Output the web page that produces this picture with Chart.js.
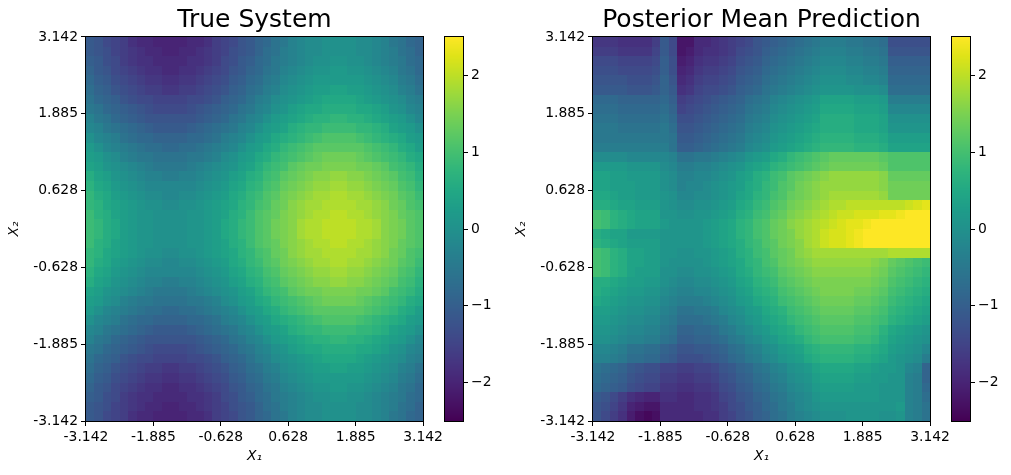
<!DOCTYPE html>
<html>
<head>
<meta charset="utf-8">
<script src="https://cdn.jsdelivr.net/npm/chart.js@4.4.1/dist/chart.umd.min.js"></script>
<style>
  body { margin: 0; background: #fff; }
  #wrap { position: relative; width: 1011px; height: 475px; overflow: hidden; background: #fff; }
  canvas { position: absolute; top: 0; }
</style>
</head>
<body>
<div id="wrap">
  <canvas id="heat1" width="460" height="475" style="left:0px"></canvas>
  <canvas id="bar1" width="80" height="475" style="left:425px"></canvas>
  <canvas id="heat2" width="460" height="475" style="left:507px"></canvas>
  <canvas id="bar2" width="80" height="475" style="left:932px"></canvas>
</div>
<script>
"use strict";

// axis ticks (same on both panels)
const tickVals = [-3.142, -1.885, -0.628, 0.628, 1.885, 3.142];
const tickLabels = ['-3.142', '-1.885', '-0.628', '0.628', '1.885', '3.142'];

// colorbar
const vmin = -2.5;
const vmax = 2.5;
const cbTickVals = [-2, -1, 0, 1, 2];
const cbTickLabels = ['\u22122', '\u22121', '0', '1', '2'];

const titles = ['True System', 'Posterior Mean Prediction'];

// grid values, row 0 = top (X2 = 3.142), column 0 = left (X1 = -3.142)
const trueZ = [
  [-1.1,-1.2,-1.4,-1.5,-1.6,-1.8,-1.9,-1.9,-2.0,-2.0,-2.0,-2.0,-1.9,-1.9,-1.8,-1.6,-1.5,-1.4,-1.2,-1.1,-0.9,-0.8,-0.6,-0.5,-0.3,-0.2,-0.1,-0.1,0.0,0.0,0.0,0.0,-0.1,-0.1,-0.2,-0.3,-0.5,-0.6,-0.8,-0.9],
  [-1.1,-1.2,-1.3,-1.5,-1.6,-1.7,-1.8,-1.9,-1.9,-2.0,-2.0,-1.9,-1.9,-1.8,-1.7,-1.6,-1.5,-1.3,-1.2,-1.1,-0.9,-0.7,-0.6,-0.4,-0.3,-0.2,-0.1,-0.1,0.0,0.0,0.0,0.0,-0.1,-0.1,-0.2,-0.3,-0.4,-0.6,-0.7,-0.9],
  [-1.0,-1.1,-1.3,-1.4,-1.6,-1.7,-1.8,-1.8,-1.9,-1.9,-1.9,-1.9,-1.8,-1.8,-1.7,-1.6,-1.4,-1.3,-1.1,-1.0,-0.8,-0.7,-0.5,-0.4,-0.3,-0.2,-0.1,0.0,0.0,0.1,0.1,0.0,0.0,-0.1,-0.2,-0.3,-0.4,-0.5,-0.7,-0.8],
  [-0.9,-1.1,-1.2,-1.4,-1.5,-1.6,-1.7,-1.8,-1.8,-1.9,-1.9,-1.8,-1.8,-1.7,-1.6,-1.5,-1.4,-1.2,-1.1,-0.9,-0.8,-0.6,-0.5,-0.3,-0.2,-0.1,0.0,0.1,0.1,0.2,0.2,0.1,0.1,0.0,-0.1,-0.2,-0.3,-0.5,-0.6,-0.8],
  [-0.8,-1.0,-1.1,-1.3,-1.4,-1.5,-1.6,-1.7,-1.7,-1.8,-1.8,-1.7,-1.7,-1.6,-1.5,-1.4,-1.3,-1.1,-1.0,-0.8,-0.7,-0.5,-0.4,-0.2,-0.1,0.0,0.1,0.2,0.2,0.2,0.2,0.2,0.2,0.1,0.0,-0.1,-0.2,-0.4,-0.5,-0.7],
  [-0.7,-0.9,-1.0,-1.2,-1.3,-1.4,-1.5,-1.6,-1.6,-1.7,-1.7,-1.6,-1.6,-1.5,-1.4,-1.3,-1.2,-1.0,-0.9,-0.7,-0.6,-0.4,-0.3,-0.1,0.0,0.1,0.2,0.3,0.3,0.4,0.4,0.3,0.3,0.2,0.1,0.0,-0.1,-0.3,-0.4,-0.6],
  [-0.6,-0.8,-0.9,-1.0,-1.2,-1.3,-1.4,-1.4,-1.5,-1.5,-1.5,-1.5,-1.4,-1.4,-1.3,-1.2,-1.0,-0.9,-0.8,-0.6,-0.4,-0.3,-0.1,0.0,0.1,0.2,0.3,0.4,0.5,0.5,0.5,0.5,0.4,0.3,0.2,0.1,0.0,-0.1,-0.3,-0.4],
  [-0.5,-0.6,-0.8,-0.9,-1.0,-1.1,-1.2,-1.3,-1.4,-1.4,-1.4,-1.4,-1.3,-1.2,-1.1,-1.0,-0.9,-0.8,-0.6,-0.5,-0.3,-0.2,0.0,0.1,0.3,0.4,0.5,0.5,0.6,0.6,0.6,0.6,0.5,0.5,0.4,0.3,0.1,0.0,-0.2,-0.3],
  [-0.3,-0.5,-0.6,-0.8,-0.9,-1.0,-1.1,-1.2,-1.2,-1.2,-1.2,-1.2,-1.2,-1.1,-1.0,-0.9,-0.8,-0.6,-0.5,-0.3,-0.2,0.0,0.2,0.3,0.4,0.5,0.6,0.7,0.7,0.8,0.8,0.7,0.7,0.6,0.5,0.4,0.3,0.2,0.0,-0.2],
  [-0.2,-0.3,-0.5,-0.6,-0.7,-0.8,-0.9,-1.0,-1.1,-1.1,-1.1,-1.1,-1.0,-0.9,-0.8,-0.7,-0.6,-0.5,-0.3,-0.2,0.0,0.2,0.3,0.4,0.6,0.7,0.8,0.8,0.9,0.9,0.9,0.9,0.8,0.8,0.7,0.6,0.4,0.3,0.2,0.0],
  [0.0,-0.2,-0.3,-0.4,-0.6,-0.7,-0.8,-0.8,-0.9,-0.9,-0.9,-0.9,-0.8,-0.8,-0.7,-0.6,-0.4,-0.3,-0.2,0.0,0.2,0.3,0.5,0.6,0.7,0.8,0.9,1.0,1.1,1.1,1.1,1.1,1.0,0.9,0.8,0.7,0.6,0.5,0.3,0.2],
  [0.2,0.0,-0.2,-0.3,-0.4,-0.5,-0.6,-0.7,-0.7,-0.8,-0.8,-0.7,-0.7,-0.6,-0.5,-0.4,-0.3,-0.2,0.0,0.2,0.3,0.5,0.6,0.8,0.9,1.0,1.1,1.2,1.2,1.2,1.2,1.2,1.2,1.1,1.0,0.9,0.8,0.6,0.5,0.3],
  [0.3,0.2,0.0,-0.1,-0.3,-0.4,-0.5,-0.5,-0.6,-0.6,-0.6,-0.6,-0.5,-0.5,-0.4,-0.3,-0.1,0.0,0.2,0.3,0.5,0.6,0.8,0.9,1.0,1.1,1.2,1.3,1.4,1.4,1.4,1.4,1.3,1.2,1.1,1.0,0.9,0.8,0.6,0.5],
  [0.4,0.3,0.1,0.0,-0.1,-0.2,-0.3,-0.4,-0.5,-0.5,-0.5,-0.5,-0.4,-0.3,-0.2,-0.1,0.0,0.1,0.3,0.4,0.6,0.8,0.9,1.0,1.2,1.3,1.4,1.4,1.5,1.5,1.5,1.5,1.4,1.4,1.3,1.2,1.0,0.9,0.8,0.6],
  [0.6,0.4,0.3,0.1,0.0,-0.1,-0.2,-0.3,-0.3,-0.4,-0.4,-0.3,-0.3,-0.2,-0.1,0.0,0.1,0.3,0.4,0.6,0.7,0.9,1.0,1.2,1.3,1.4,1.5,1.6,1.6,1.7,1.7,1.6,1.6,1.5,1.4,1.3,1.2,1.0,0.9,0.7],
  [0.7,0.5,0.4,0.2,0.1,0.0,-0.1,-0.2,-0.2,-0.2,-0.2,-0.2,-0.2,-0.1,0.0,0.1,0.2,0.4,0.5,0.7,0.8,1.0,1.1,1.3,1.4,1.5,1.6,1.7,1.7,1.8,1.8,1.7,1.7,1.6,1.5,1.4,1.3,1.1,1.0,0.8],
  [0.8,0.6,0.5,0.3,0.2,0.1,0.0,-0.1,-0.1,-0.2,-0.2,-0.1,-0.1,0.0,0.1,0.2,0.3,0.5,0.6,0.8,0.9,1.1,1.2,1.4,1.5,1.6,1.7,1.8,1.8,1.9,1.9,1.8,1.8,1.7,1.6,1.5,1.4,1.2,1.1,0.9],
  [0.8,0.7,0.5,0.4,0.3,0.2,0.1,0.0,0.0,-0.1,-0.1,0.0,0.0,0.1,0.2,0.3,0.4,0.5,0.7,0.8,1.0,1.1,1.3,1.4,1.6,1.7,1.8,1.8,1.9,1.9,1.9,1.9,1.8,1.8,1.7,1.6,1.4,1.3,1.1,1.0],
  [0.9,0.7,0.6,0.4,0.3,0.2,0.1,0.1,0.0,0.0,0.0,0.0,0.1,0.1,0.2,0.3,0.4,0.6,0.7,0.9,1.1,1.2,1.3,1.5,1.6,1.7,1.8,1.9,1.9,2.0,2.0,1.9,1.9,1.8,1.7,1.6,1.5,1.3,1.2,1.1],
  [0.9,0.8,0.6,0.5,0.3,0.2,0.1,0.1,0.0,0.0,0.0,0.0,0.1,0.1,0.2,0.3,0.5,0.6,0.8,0.9,1.1,1.2,1.4,1.5,1.6,1.8,1.9,1.9,2.0,2.0,2.0,2.0,1.9,1.9,1.8,1.6,1.5,1.4,1.2,1.1],
  [0.9,0.8,0.6,0.5,0.3,0.2,0.1,0.1,0.0,0.0,0.0,0.0,0.1,0.1,0.2,0.3,0.5,0.6,0.8,0.9,1.1,1.2,1.4,1.5,1.6,1.8,1.9,1.9,2.0,2.0,2.0,2.0,1.9,1.9,1.8,1.6,1.5,1.4,1.2,1.1],
  [0.9,0.7,0.6,0.4,0.3,0.2,0.1,0.1,0.0,0.0,0.0,0.0,0.1,0.1,0.2,0.3,0.4,0.6,0.7,0.9,1.1,1.2,1.3,1.5,1.6,1.7,1.8,1.9,1.9,2.0,2.0,1.9,1.9,1.8,1.7,1.6,1.5,1.3,1.2,1.1],
  [0.8,0.7,0.5,0.4,0.3,0.2,0.1,0.0,0.0,-0.1,-0.1,0.0,0.0,0.1,0.2,0.3,0.4,0.5,0.7,0.8,1.0,1.1,1.3,1.4,1.6,1.7,1.8,1.8,1.9,1.9,1.9,1.9,1.8,1.8,1.7,1.6,1.4,1.3,1.1,1.0],
  [0.8,0.6,0.5,0.3,0.2,0.1,0.0,-0.1,-0.1,-0.2,-0.2,-0.1,-0.1,0.0,0.1,0.2,0.3,0.5,0.6,0.8,0.9,1.1,1.2,1.4,1.5,1.6,1.7,1.8,1.8,1.9,1.9,1.8,1.8,1.7,1.6,1.5,1.4,1.2,1.1,0.9],
  [0.7,0.5,0.4,0.2,0.1,0.0,-0.1,-0.2,-0.2,-0.2,-0.2,-0.2,-0.2,-0.1,0.0,0.1,0.2,0.4,0.5,0.7,0.8,1.0,1.1,1.3,1.4,1.5,1.6,1.7,1.7,1.8,1.8,1.7,1.7,1.6,1.5,1.4,1.3,1.1,1.0,0.8],
  [0.6,0.4,0.3,0.1,0.0,-0.1,-0.2,-0.3,-0.3,-0.4,-0.4,-0.3,-0.3,-0.2,-0.1,0.0,0.1,0.3,0.4,0.6,0.7,0.9,1.0,1.2,1.3,1.4,1.5,1.6,1.6,1.7,1.7,1.6,1.6,1.5,1.4,1.3,1.2,1.0,0.9,0.7],
  [0.4,0.3,0.1,0.0,-0.1,-0.2,-0.3,-0.4,-0.5,-0.5,-0.5,-0.5,-0.4,-0.3,-0.2,-0.1,0.0,0.1,0.3,0.4,0.6,0.8,0.9,1.0,1.2,1.3,1.4,1.4,1.5,1.5,1.5,1.5,1.4,1.4,1.3,1.2,1.0,0.9,0.8,0.6],
  [0.3,0.2,0.0,-0.1,-0.3,-0.4,-0.5,-0.5,-0.6,-0.6,-0.6,-0.6,-0.5,-0.5,-0.4,-0.3,-0.1,0.0,0.2,0.3,0.5,0.6,0.8,0.9,1.0,1.1,1.2,1.3,1.4,1.4,1.4,1.4,1.3,1.2,1.1,1.0,0.9,0.8,0.6,0.5],
  [0.2,0.0,-0.2,-0.3,-0.4,-0.5,-0.6,-0.7,-0.7,-0.8,-0.8,-0.7,-0.7,-0.6,-0.5,-0.4,-0.3,-0.2,0.0,0.2,0.3,0.5,0.6,0.8,0.9,1.0,1.1,1.2,1.2,1.2,1.2,1.2,1.2,1.1,1.0,0.9,0.8,0.6,0.5,0.3],
  [0.0,-0.2,-0.3,-0.4,-0.6,-0.7,-0.8,-0.8,-0.9,-0.9,-0.9,-0.9,-0.8,-0.8,-0.7,-0.6,-0.4,-0.3,-0.2,0.0,0.2,0.3,0.5,0.6,0.7,0.8,0.9,1.0,1.1,1.1,1.1,1.1,1.0,0.9,0.8,0.7,0.6,0.5,0.3,0.2],
  [-0.2,-0.3,-0.5,-0.6,-0.7,-0.8,-0.9,-1.0,-1.1,-1.1,-1.1,-1.1,-1.0,-0.9,-0.8,-0.7,-0.6,-0.5,-0.3,-0.2,0.0,0.2,0.3,0.4,0.6,0.7,0.8,0.8,0.9,0.9,0.9,0.9,0.8,0.8,0.7,0.6,0.4,0.3,0.2,0.0],
  [-0.3,-0.5,-0.6,-0.8,-0.9,-1.0,-1.1,-1.2,-1.2,-1.2,-1.2,-1.2,-1.2,-1.1,-1.0,-0.9,-0.8,-0.6,-0.5,-0.3,-0.2,0.0,0.2,0.3,0.4,0.5,0.6,0.7,0.7,0.8,0.8,0.7,0.7,0.6,0.5,0.4,0.3,0.2,0.0,-0.2],
  [-0.5,-0.6,-0.8,-0.9,-1.0,-1.1,-1.2,-1.3,-1.4,-1.4,-1.4,-1.4,-1.3,-1.2,-1.1,-1.0,-0.9,-0.8,-0.6,-0.5,-0.3,-0.2,0.0,0.1,0.3,0.4,0.5,0.5,0.6,0.6,0.6,0.6,0.5,0.5,0.4,0.3,0.1,0.0,-0.2,-0.3],
  [-0.6,-0.8,-0.9,-1.0,-1.2,-1.3,-1.4,-1.4,-1.5,-1.5,-1.5,-1.5,-1.4,-1.4,-1.3,-1.2,-1.0,-0.9,-0.8,-0.6,-0.4,-0.3,-0.1,0.0,0.1,0.2,0.3,0.4,0.5,0.5,0.5,0.5,0.4,0.3,0.2,0.1,0.0,-0.1,-0.3,-0.4],
  [-0.7,-0.9,-1.0,-1.2,-1.3,-1.4,-1.5,-1.6,-1.6,-1.7,-1.7,-1.6,-1.6,-1.5,-1.4,-1.3,-1.2,-1.0,-0.9,-0.7,-0.6,-0.4,-0.3,-0.1,0.0,0.1,0.2,0.3,0.3,0.4,0.4,0.3,0.3,0.2,0.1,0.0,-0.1,-0.3,-0.4,-0.6],
  [-0.8,-1.0,-1.1,-1.3,-1.4,-1.5,-1.6,-1.7,-1.7,-1.8,-1.8,-1.7,-1.7,-1.6,-1.5,-1.4,-1.3,-1.1,-1.0,-0.8,-0.7,-0.5,-0.4,-0.2,-0.1,0.0,0.1,0.2,0.2,0.2,0.2,0.2,0.2,0.1,0.0,-0.1,-0.2,-0.4,-0.5,-0.7],
  [-0.9,-1.1,-1.2,-1.4,-1.5,-1.6,-1.7,-1.8,-1.8,-1.9,-1.9,-1.8,-1.8,-1.7,-1.6,-1.5,-1.4,-1.2,-1.1,-0.9,-0.8,-0.6,-0.5,-0.3,-0.2,-0.1,0.0,0.1,0.1,0.2,0.2,0.1,0.1,0.0,-0.1,-0.2,-0.3,-0.5,-0.6,-0.8],
  [-1.0,-1.1,-1.3,-1.4,-1.6,-1.7,-1.8,-1.8,-1.9,-1.9,-1.9,-1.9,-1.8,-1.8,-1.7,-1.6,-1.4,-1.3,-1.1,-1.0,-0.8,-0.7,-0.5,-0.4,-0.3,-0.2,-0.1,0.0,0.0,0.1,0.1,0.0,0.0,-0.1,-0.2,-0.3,-0.4,-0.5,-0.7,-0.8],
  [-1.1,-1.2,-1.3,-1.5,-1.6,-1.7,-1.8,-1.9,-1.9,-2.0,-2.0,-1.9,-1.9,-1.8,-1.7,-1.6,-1.5,-1.3,-1.2,-1.1,-0.9,-0.7,-0.6,-0.4,-0.3,-0.2,-0.1,-0.1,0.0,0.0,0.0,0.0,-0.1,-0.1,-0.2,-0.3,-0.4,-0.6,-0.7,-0.9],
  [-1.1,-1.2,-1.4,-1.5,-1.6,-1.8,-1.9,-1.9,-2.0,-2.0,-2.0,-2.0,-1.9,-1.9,-1.8,-1.6,-1.5,-1.4,-1.2,-1.1,-0.9,-0.8,-0.6,-0.5,-0.3,-0.2,-0.1,-0.1,0.0,0.0,0.0,0.0,-0.1,-0.1,-0.2,-0.3,-0.5,-0.6,-0.8,-0.9]
];

const postZ = [
  [-1.7,-1.7,-1.7,-1.8,-1.8,-1.8,-1.8,-1.6,-1.1,-1.4,-2.2,-2.2,-1.9,-1.9,-1.8,-1.7,-1.6,-1.5,-1.4,-1.2,-1.1,-1.0,-0.9,-0.8,-0.7,-0.6,-0.5,-0.4,-0.4,-0.4,-0.5,-0.5,-0.6,-0.6,-0.7,-1.3,-1.3,-1.3,-1.3,-1.3],
  [-1.6,-1.6,-1.6,-1.7,-1.7,-1.7,-1.7,-1.5,-1.1,-1.4,-2.2,-2.1,-1.9,-1.8,-1.8,-1.7,-1.6,-1.4,-1.3,-1.2,-1.0,-0.9,-0.8,-0.7,-0.6,-0.5,-0.4,-0.3,-0.3,-0.3,-0.4,-0.4,-0.5,-0.5,-0.6,-1.2,-1.2,-1.2,-1.2,-1.2],
  [-1.4,-1.4,-1.4,-1.5,-1.5,-1.5,-1.5,-1.4,-1.0,-1.3,-2.1,-2.0,-1.8,-1.7,-1.7,-1.6,-1.5,-1.3,-1.2,-1.1,-0.9,-0.8,-0.7,-0.6,-0.5,-0.4,-0.3,-0.2,-0.2,-0.2,-0.3,-0.3,-0.4,-0.4,-0.5,-1.0,-1.0,-1.0,-1.0,-1.0],
  [-1.3,-1.3,-1.3,-1.4,-1.4,-1.4,-1.4,-1.3,-1.0,-1.3,-2.0,-1.9,-1.7,-1.6,-1.6,-1.5,-1.4,-1.2,-1.1,-1.0,-0.8,-0.7,-0.6,-0.5,-0.4,-0.3,-0.2,-0.1,-0.1,-0.1,-0.2,-0.2,-0.3,-0.3,-0.4,-0.9,-0.9,-0.9,-0.9,-0.9],
  [-1.2,-1.2,-1.2,-1.2,-1.3,-1.3,-1.3,-1.2,-0.9,-1.2,-1.9,-1.8,-1.6,-1.5,-1.5,-1.4,-1.3,-1.1,-1.0,-0.9,-0.7,-0.6,-0.5,-0.4,-0.3,-0.2,-0.1,0.0,0.0,0.0,-0.1,-0.1,-0.2,-0.2,-0.3,-0.8,-0.8,-0.8,-0.8,-0.8],
  [-1.1,-1.1,-1.1,-1.1,-1.2,-1.2,-1.2,-1.1,-0.9,-1.1,-1.8,-1.7,-1.5,-1.4,-1.4,-1.3,-1.2,-1.0,-0.9,-0.8,-0.6,-0.5,-0.4,-0.3,-0.2,-0.1,0.0,0.1,0.1,0.1,0.1,0.0,0.0,0.0,-0.1,-0.7,-0.7,-0.7,-0.7,-0.7],
  [-0.8,-0.8,-0.8,-0.9,-0.9,-0.9,-0.9,-0.9,-0.8,-1.0,-1.6,-1.5,-1.4,-1.3,-1.2,-1.1,-1.0,-0.9,-0.7,-0.6,-0.5,-0.3,-0.2,-0.1,0.0,0.1,0.2,0.4,0.4,0.4,0.4,0.3,0.3,0.3,0.2,-0.4,-0.4,-0.4,-0.4,-0.4],
  [-0.7,-0.7,-0.7,-0.8,-0.8,-0.8,-0.8,-0.8,-0.7,-0.9,-1.5,-1.4,-1.3,-1.2,-1.1,-1.0,-0.9,-0.8,-0.6,-0.5,-0.4,-0.2,-0.1,0.0,0.1,0.2,0.3,0.5,0.5,0.5,0.5,0.4,0.4,0.4,0.3,-0.2,-0.2,-0.2,-0.2,-0.2],
  [-0.6,-0.6,-0.6,-0.7,-0.7,-0.7,-0.7,-0.7,-0.6,-0.8,-1.3,-1.3,-1.2,-1.1,-1.0,-0.9,-0.8,-0.7,-0.5,-0.4,-0.3,-0.1,0.0,0.1,0.2,0.3,0.4,0.6,0.6,0.6,0.6,0.5,0.5,0.5,0.4,0.0,0.0,0.0,0.0,0.0],
  [-0.5,-0.5,-0.5,-0.6,-0.6,-0.6,-0.6,-0.6,-0.5,-0.7,-1.2,-1.2,-1.1,-1.0,-0.9,-0.8,-0.7,-0.6,-0.4,-0.3,-0.2,0.0,0.1,0.2,0.3,0.4,0.5,0.6,0.6,0.6,0.6,0.5,0.5,0.5,0.4,0.1,0.1,0.1,0.1,0.1],
  [-0.5,-0.5,-0.5,-0.5,-0.5,-0.5,-0.5,-0.5,-0.5,-0.6,-1.1,-1.1,-1.0,-0.9,-0.8,-0.7,-0.6,-0.5,-0.3,-0.2,-0.1,0.1,0.2,0.3,0.4,0.5,0.6,0.7,0.7,0.7,0.7,0.6,0.6,0.6,0.5,0.3,0.3,0.3,0.3,0.3],
  [-0.4,-0.4,-0.4,-0.4,-0.4,-0.4,-0.4,-0.4,-0.4,-0.6,-1.0,-1.0,-0.9,-0.8,-0.7,-0.6,-0.5,-0.4,-0.2,-0.1,0.0,0.2,0.3,0.4,0.5,0.6,0.7,0.8,0.8,0.8,0.8,0.7,0.7,0.7,0.6,0.4,0.4,0.4,0.4,0.4],
  [-0.1,-0.1,-0.1,-0.1,-0.2,-0.2,-0.2,-0.2,-0.2,-0.3,-0.6,-0.6,-0.5,-0.5,-0.4,-0.3,-0.2,-0.1,0.1,0.2,0.3,0.5,0.6,0.8,0.9,1.0,1.1,1.2,1.3,1.3,1.3,1.3,1.3,1.3,1.2,1.1,1.1,1.1,1.1,1.1],
  [0.2,0.2,0.2,0.2,0.1,0.1,0.1,0.1,-0.1,-0.2,-0.4,-0.4,-0.3,-0.3,-0.2,-0.1,0.0,0.1,0.3,0.4,0.5,0.7,0.8,0.9,1.0,1.1,1.2,1.3,1.4,1.4,1.4,1.4,1.4,1.4,1.3,1.1,1.1,1.1,1.1,1.1],
  [0.4,0.4,0.3,0.3,0.2,0.2,0.2,0.2,0.0,-0.1,-0.3,-0.3,-0.2,-0.2,-0.1,0.0,0.1,0.3,0.4,0.6,0.7,0.9,1.0,1.2,1.3,1.4,1.5,1.6,1.7,1.7,1.7,1.7,1.7,1.7,1.6,1.3,1.3,1.3,1.3,1.3],
  [0.4,0.4,0.3,0.3,0.3,0.2,0.2,0.2,0.0,-0.1,-0.3,-0.2,-0.2,-0.1,0.0,0.1,0.2,0.3,0.5,0.6,0.8,0.9,1.1,1.2,1.4,1.5,1.6,1.7,1.7,1.7,1.7,1.7,1.7,1.7,1.6,1.4,1.4,1.4,1.4,1.4],
  [0.5,0.5,0.4,0.3,0.3,0.2,0.2,0.2,0.1,0.0,-0.2,-0.2,-0.1,-0.1,0.0,0.1,0.2,0.4,0.5,0.7,0.8,1.0,1.1,1.3,1.4,1.5,1.6,1.7,1.8,1.8,1.8,1.8,1.8,1.8,1.7,1.4,1.4,1.4,1.4,1.4],
  [0.6,0.6,0.5,0.4,0.4,0.3,0.3,0.3,0.1,0.0,-0.1,-0.1,0.0,0.0,0.1,0.2,0.3,0.5,0.6,0.8,0.9,1.1,1.2,1.4,1.5,1.6,1.7,1.8,1.9,1.9,2.0,2.0,2.0,2.0,2.0,2.0,2.0,2.1,2.2,2.3],
  [1.0,0.9,0.7,0.6,0.5,0.4,0.4,0.4,0.1,0.1,0.0,0.0,0.1,0.1,0.2,0.3,0.4,0.6,0.7,0.9,1.0,1.2,1.3,1.5,1.6,1.7,1.8,1.9,2.0,2.1,2.1,2.2,2.2,2.2,2.3,2.3,2.4,2.7,2.7,2.7],
  [1.0,0.9,0.7,0.6,0.5,0.4,0.4,0.4,0.2,0.1,0.1,0.1,0.1,0.2,0.3,0.4,0.5,0.7,0.8,1.0,1.1,1.3,1.4,1.6,1.7,1.8,1.9,2.0,2.1,2.2,2.3,2.3,2.4,2.7,2.7,2.7,2.7,2.7,2.7,2.7],
  [0.6,0.5,0.4,0.4,0.2,0.2,0.2,0.2,0.1,0.1,0.1,0.1,0.1,0.2,0.3,0.4,0.5,0.7,0.8,1.0,1.1,1.3,1.4,1.5,1.7,1.8,1.9,2.1,2.2,2.2,2.3,2.4,2.5,2.7,2.7,2.7,2.7,2.7,2.7,2.7],
  [0.7,0.6,0.5,0.4,0.3,0.3,0.3,0.3,0.1,0.1,0.1,0.1,0.1,0.2,0.3,0.4,0.5,0.6,0.8,0.9,1.1,1.2,1.4,1.5,1.6,1.8,1.9,2.1,2.2,2.2,2.3,2.4,2.5,2.7,2.7,2.7,2.7,2.7,2.7,2.7],
  [1.0,0.9,0.7,0.6,0.4,0.4,0.3,0.3,0.1,0.1,0.0,0.0,0.1,0.1,0.2,0.3,0.4,0.6,0.7,0.9,1.0,1.2,1.3,1.4,1.6,1.7,1.8,1.8,1.8,1.8,1.8,1.8,1.8,1.8,1.8,1.9,1.9,1.9,1.9,1.9],
  [1.0,0.9,0.7,0.6,0.4,0.4,0.3,0.3,0.1,0.0,0.0,0.0,0.0,0.1,0.2,0.3,0.4,0.5,0.7,0.8,1.0,1.1,1.3,1.4,1.5,1.6,1.7,1.7,1.7,1.7,1.7,1.7,1.7,1.6,1.5,1.3,1.2,1.1,1.0,0.9],
  [1.0,0.9,0.7,0.6,0.4,0.3,0.3,0.3,0.0,0.0,-0.1,-0.1,0.0,0.0,0.1,0.2,0.3,0.5,0.6,0.8,0.9,1.0,1.2,1.3,1.4,1.5,1.6,1.6,1.6,1.6,1.6,1.6,1.6,1.5,1.4,1.2,1.1,1.0,0.9,0.8],
  [0.6,0.6,0.5,0.4,0.3,0.3,0.2,0.2,0.0,-0.1,-0.2,-0.2,-0.1,-0.1,0.0,0.1,0.2,0.4,0.5,0.7,0.8,0.9,1.1,1.2,1.3,1.4,1.5,1.5,1.5,1.5,1.5,1.5,1.5,1.4,1.3,1.1,1.0,0.9,0.8,0.7],
  [0.6,0.5,0.4,0.3,0.2,0.2,0.1,0.1,-0.1,-0.2,-0.3,-0.3,-0.2,-0.2,-0.1,0.0,0.1,0.3,0.4,0.6,0.7,0.8,1.0,1.1,1.2,1.3,1.4,1.5,1.5,1.5,1.5,1.4,1.4,1.3,1.2,1.0,0.9,0.8,0.7,0.6],
  [0.5,0.4,0.3,0.2,0.1,0.1,0.0,0.0,-0.2,-0.3,-0.4,-0.4,-0.4,-0.3,-0.2,-0.1,0.0,0.2,0.3,0.5,0.6,0.7,0.9,1.0,1.1,1.2,1.3,1.4,1.4,1.4,1.4,1.3,1.3,1.2,1.1,0.9,0.8,0.7,0.6,0.5],
  [0.3,0.3,0.2,0.1,0.0,0.0,-0.1,-0.1,-0.3,-0.4,-0.6,-0.6,-0.5,-0.5,-0.4,-0.2,-0.1,0.0,0.2,0.3,0.5,0.6,0.7,0.9,1.0,1.1,1.2,1.3,1.3,1.3,1.3,1.2,1.2,1.1,1.0,0.8,0.7,0.6,0.5,0.4],
  [0.2,0.2,0.1,0.0,-0.1,-0.1,-0.2,-0.2,-0.4,-0.5,-0.7,-0.7,-0.7,-0.6,-0.5,-0.4,-0.2,-0.1,0.1,0.2,0.4,0.5,0.6,0.8,0.9,1.0,1.1,1.2,1.2,1.2,1.2,1.1,1.1,1.0,0.9,0.7,0.6,0.5,0.4,0.3],
  [0.1,0.1,0.0,-0.1,-0.2,-0.2,-0.3,-0.3,-0.5,-0.6,-0.9,-0.9,-0.8,-0.8,-0.7,-0.5,-0.4,-0.2,-0.1,0.1,0.2,0.4,0.5,0.6,0.8,0.9,1.0,1.1,1.1,1.1,1.1,1.0,1.0,0.9,0.7,0.5,0.4,0.3,0.2,0.1],
  [0.0,0.0,-0.1,-0.2,-0.3,-0.3,-0.4,-0.4,-0.6,-0.7,-1.0,-1.0,-0.9,-0.9,-0.8,-0.7,-0.5,-0.4,-0.2,-0.1,0.1,0.2,0.4,0.5,0.6,0.8,0.9,1.0,1.0,1.0,1.0,0.9,0.9,0.8,0.6,0.4,0.3,0.2,0.1,0.0],
  [-0.2,-0.2,-0.3,-0.4,-0.6,-0.6,-0.7,-0.7,-0.9,-1.0,-1.2,-1.2,-1.1,-1.1,-1.0,-0.9,-0.7,-0.6,-0.4,-0.3,-0.1,0.0,0.2,0.3,0.4,0.6,0.7,0.8,0.8,0.8,0.8,0.7,0.7,0.6,0.5,0.3,0.2,0.1,0.0,-0.2],
  [-0.3,-0.3,-0.4,-0.5,-0.7,-0.7,-0.8,-0.8,-1.0,-1.1,-1.3,-1.3,-1.3,-1.2,-1.1,-1.0,-0.8,-0.7,-0.5,-0.4,-0.2,-0.1,0.1,0.2,0.3,0.5,0.6,0.7,0.7,0.7,0.7,0.6,0.6,0.5,0.4,0.2,0.1,0.0,-0.1,-0.4],
  [-0.6,-0.7,-0.8,-0.9,-1.1,-1.2,-1.3,-1.3,-1.5,-1.5,-1.6,-1.6,-1.5,-1.5,-1.4,-1.2,-1.1,-0.9,-0.8,-0.6,-0.5,-0.3,-0.2,0.0,0.1,0.2,0.4,0.5,0.5,0.5,0.5,0.4,0.4,0.3,0.2,0.2,0.1,-0.2,-0.3,-0.9],
  [-0.7,-0.8,-0.9,-1.0,-1.2,-1.3,-1.4,-1.4,-1.6,-1.6,-1.7,-1.7,-1.6,-1.6,-1.5,-1.3,-1.2,-1.0,-0.9,-0.7,-0.6,-0.4,-0.3,-0.1,0.0,0.1,0.3,0.4,0.4,0.4,0.4,0.3,0.3,0.2,0.2,0.1,0.1,-0.3,-0.4,-0.9],
  [-0.8,-0.9,-1.0,-1.1,-1.3,-1.4,-1.5,-1.5,-1.7,-1.7,-1.8,-1.8,-1.7,-1.7,-1.6,-1.4,-1.3,-1.1,-1.0,-0.8,-0.7,-0.5,-0.4,-0.2,-0.1,0.0,0.2,0.3,0.3,0.3,0.3,0.2,0.2,0.2,0.1,0.1,0.1,-0.3,-0.4,-0.8],
  [-1.1,-1.2,-1.4,-1.6,-1.8,-1.9,-2.0,-2.0,-1.8,-1.8,-1.9,-1.9,-1.8,-1.8,-1.7,-1.5,-1.4,-1.2,-1.1,-0.9,-0.8,-0.6,-0.5,-0.3,-0.2,-0.1,0.1,0.2,0.2,0.2,0.2,0.2,0.2,0.2,0.1,0.1,0.1,-0.3,-0.4,-0.7],
  [-1.2,-1.3,-1.5,-1.7,-2.0,-2.1,-2.2,-2.2,-1.9,-1.9,-1.9,-1.9,-1.8,-1.8,-1.7,-1.6,-1.4,-1.3,-1.1,-1.0,-0.8,-0.7,-0.5,-0.4,-0.2,-0.1,0.0,0.1,0.1,0.1,0.1,0.1,0.1,0.1,0.1,0.1,0.2,-0.3,-0.4,-0.6],
  [-1.2,-1.4,-1.6,-1.8,-2.1,-2.3,-2.4,-2.3,-1.9,-1.9,-1.9,-1.9,-1.9,-1.8,-1.8,-1.6,-1.5,-1.3,-1.2,-1.0,-0.9,-0.7,-0.6,-0.4,-0.3,-0.2,-0.1,0.0,0.0,0.0,0.1,0.1,0.1,0.1,0.0,0.0,0.1,-0.3,-0.4,-0.6]
];

// viridis stops, 0..1 in steps of 0.05
const viridis = ['#440154','#471365','#482475','#463480','#414487','#3b528b','#355f8d','#2f6c8e','#2a788e','#25848e',
  '#21918c','#1e9c89','#22a884','#2fb47c','#44bf70','#5ec962','#7ad151','#9bd93c','#bddf26','#dfe318','#fde725'];
const vrgb = viridis.map(h => [parseInt(h.slice(1,3),16), parseInt(h.slice(3,5),16), parseInt(h.slice(5,7),16)]);

function colorFor(v) {
  let t = (v - vmin) / (vmax - vmin);
  t = Math.max(0, Math.min(1, t));
  const f = t * (vrgb.length - 1);
  const i = Math.min(vrgb.length - 2, Math.floor(f));
  const k = f - i;
  const a = vrgb[i], b = vrgb[i + 1];
  return 'rgb(' + Math.round(a[0] + (b[0]-a[0])*k) + ',' + Math.round(a[1] + (b[1]-a[1])*k) + ',' + Math.round(a[2] + (b[2]-a[2])*k) + ')';
}

Chart.defaults.font.family = 'DejaVu Sans';
Chart.defaults.color = '#000';

const FONT = 13.9;
const lim = Math.PI;

const heatPlugin = {
  id: 'heat',
  beforeDatasetsDraw(chart) {
    const {ctx, scales: {x, y}} = chart;
    const ds = chart.data.datasets[0];
    const hw = ds.cellW / 2, hh = ds.cellH / 2;
    ctx.save();
    ds.data.forEach(p => {
      const l = Math.round(x.getPixelForValue(p.x - hw));
      const r = Math.round(x.getPixelForValue(p.x + hw));
      const t = Math.round(y.getPixelForValue(p.y + hh));
      const b = Math.round(y.getPixelForValue(p.y - hh));
      ctx.fillStyle = colorFor(p.v);
      ctx.fillRect(l, t, r - l, b - t);
    });
    ctx.restore();
  },
  afterDatasetsDraw(chart) {
    const {ctx, chartArea: a} = chart;
    ctx.save();
    ctx.strokeStyle = '#000';
    ctx.lineWidth = 1;
    const l = Math.round(a.left), t = Math.round(a.top), r = Math.round(a.right), b = Math.round(a.bottom);
    ctx.strokeRect(l - 0.5, t - 0.5, r - l + 1, b - t + 1);
    ctx.restore();
  },
  // panel title centred over the plot area, like matplotlib's ax.set_title
  afterDraw(chart, args, opts) {
    const {ctx, chartArea: a} = chart;
    ctx.save();
    ctx.font = '25px "DejaVu Sans"';
    ctx.fillStyle = '#000';
    ctx.textAlign = 'center';
    ctx.textBaseline = 'middle';
    ctx.fillText(opts.text, (a.left + a.right) / 2, 20);
    ctx.restore();
  }
};

function axis(pos, label) {
  return {
    type: 'linear',
    position: pos,
    min: -lim,
    max: lim,
    afterBuildTicks: s => { s.ticks = tickVals.map(v => ({value: v})); },
    afterFit: s => {
      if (pos === 'left') {
        s.width = 86;
        s.paddingTop = 0;
        s.paddingBottom = 0;
      } else {
        s.height = 54;
        s.paddingLeft = 0;
        s.paddingRight = 0;
      }
    },
    ticks: {
      autoSkip: false,
      maxRotation: 0,
      padding: 3,
      color: '#000',
      font: {size: FONT},
      callback: (v, i) => tickLabels[i]
    },
    grid: {drawOnChartArea: false, drawTicks: true, tickLength: 5, color: '#000', tickColor: '#000', tickWidth: 1},
    border: {display: false},
    title: {
      display: true,
      text: label,
      color: '#000',
      font: {size: FONT, style: 'italic'},
      padding: pos === 'left' ? {top: 6, bottom: 0} : {top: 0, bottom: 10}
    }
  };
}

function heatChart(id, title, grid) {
  const n = grid.length, m = grid[0].length;
  const cw = 2 * lim / m, ch = 2 * lim / n;
  const pts = [];
  grid.forEach((row, i) => row.forEach((v, j) => {
    pts.push({x: -lim + (j + 0.5) * cw, y: lim - (i + 0.5) * ch, v: v});
  }));
  return new Chart(document.getElementById(id), {
    type: 'scatter',
    data: {datasets: [{data: pts, cellW: cw, cellH: ch, pointRadius: 0, pointHoverRadius: 0}]},
    options: {
      responsive: false,
      animation: false,
      devicePixelRatio: 1,
      events: [],
      layout: {padding: {left: 0, right: 37, top: 37, bottom: 0}},
      plugins: {
        legend: {display: false},
        tooltip: {enabled: false},
        title: {display: false},
        heat: {text: title}
      },
      scales: {
        x: axis('bottom', 'X\u2081'),
        y: axis('left', 'X\u2082')
      }
    },
    plugins: [heatPlugin]
  });
}

const barPlugin = {
  id: 'cbar',
  beforeDatasetsDraw(chart) {
    const {ctx, chartArea: a, scales: {y}} = chart;
    ctx.save();
    for (let py = Math.round(a.top); py < Math.round(a.bottom); py++) {
      ctx.fillStyle = colorFor(y.getValueForPixel(py + 0.5));
      ctx.fillRect(Math.round(a.left), py, Math.round(a.right) - Math.round(a.left), 1);
    }
    ctx.strokeStyle = '#000';
    ctx.lineWidth = 1;
    const l = Math.round(a.left), t = Math.round(a.top), r = Math.round(a.right), b = Math.round(a.bottom);
    ctx.strokeRect(l - 0.5, t - 0.5, r - l + 1, b - t + 1);
    ctx.restore();
  }
};

function colorBar(id) {
  return new Chart(document.getElementById(id), {
    type: 'scatter',
    data: {datasets: [{data: []}]},
    options: {
      responsive: false,
      animation: false,
      devicePixelRatio: 1,
      events: [],
      layout: {padding: {left: 20, right: 0, top: 37, bottom: 54}},
      plugins: {legend: {display: false}, tooltip: {enabled: false}},
      scales: {
        x: {display: false, min: 0, max: 1},
        y: {
          position: 'right',
          min: vmin,
          max: vmax,
          afterBuildTicks: s => { s.ticks = cbTickVals.map(v => ({value: v})); },
          afterFit: s => { s.width = 42; s.paddingTop = 0; s.paddingBottom = 0; },
          ticks: {autoSkip: false, padding: 3, color: '#000', font: {size: FONT}, callback: (v, i) => cbTickLabels[i]},
          grid: {drawOnChartArea: false, drawTicks: true, tickLength: 5, color: '#000', tickColor: '#000'},
          border: {display: false}
        }
      }
    },
    plugins: [barPlugin]
  });
}

heatChart('heat1', titles[0], trueZ);
colorBar('bar1');
heatChart('heat2', titles[1], postZ);
colorBar('bar2');
</script>
</body>
</html>
